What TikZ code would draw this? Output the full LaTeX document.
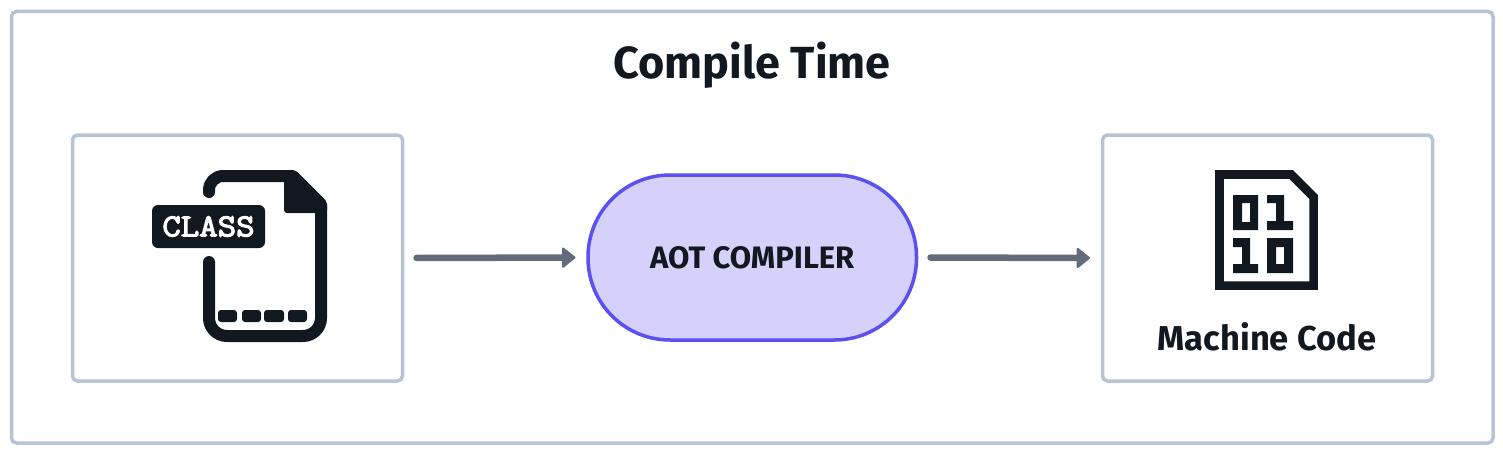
\documentclass[tikz,border=0pt]{standalone}
\usepackage{fontspec}
\usetikzlibrary{arrows.meta}
\setmainfont{Fira Sans}
\newfontfamily\slabfont[FakeBold=3.5,FakeStretch=1.12]{Latin Modern Mono}
\definecolor{ink}{HTML}{111820}
\definecolor{edge}{HTML}{B8C4D6}
\definecolor{arrowgray}{HTML}{626C7A}
\definecolor{pillfill}{HTML}{D5D1FA}
\definecolor{pilledge}{HTML}{5B50F0}
\tikzset{
  x=1pt,y=-1pt,
  panel/.style={draw=edge,line width=3.5pt,rounded corners=5pt,fill=white,outer sep=0pt,inner sep=0pt},
  flow/.style={draw=arrowgray,line width=6.5pt,line cap=round,-{Triangle[length=14pt,width=22pt,round,line width=2pt]},shorten <=14pt,shorten >=12.5pt},
  iconline/.style={draw=ink,line cap=round,line join=round,line width=12pt},
}
\begin{document}
\begin{tikzpicture}
\useasboundingbox (0,0) rectangle (1503,452);
\fill[white] (0,0) rectangle (1503,452);
\node[panel,minimum width=1481.5pt,minimum height=431.5pt] (outer) at (752.25,227.25) {};
\node[font=\bfseries\fontsize{45}{45}\selectfont,text=ink,inner sep=0pt] (title) at (752,65) {Compile Time};
\node[panel,minimum width=330pt,minimum height=246pt] (src) at (237.5,258) {};
\node[panel,minimum width=330pt,minimum height=246pt] (dst) at (1267.5,258) {};
\node[draw=pilledge,fill=pillfill,line width=3.5pt,rounded corners=82pt,minimum width=328.5pt,minimum height=165pt,outer sep=0pt,inner sep=0pt,
  font=\fontsize{31}{31}\selectfont\bfseries,text=ink] (aot) at (752.25,257.5) {AOT COMPILER};
\draw[flow] (src.east) -- (aot.west);
\draw[flow] (aot.east) -- (dst.west);
% CLASS file icon
\draw[iconline,rounded corners=0pt] (209,192) -- (209,190) [rounded corners=14pt] -- (209,176) [rounded corners=0pt] -- (293,176) -- (321,204) [rounded corners=18pt] -- (321,336) -- (209,336) [rounded corners=0pt] -- (209,262);
\fill[ink,rounded corners=3pt] (284,172) -- (296,172) -- (327,203) -- (327,213) -- (284,213) -- cycle;
\node[fill=ink,rounded corners=6pt,minimum width=113pt,minimum height=43pt,inner sep=0pt,outer sep=0pt,text=white,font=\slabfont\fontsize{32}{32}\selectfont] (badge) at (208.5,226.5) {CLASS};
\fill[ink,rounded corners=3pt] (218,310) rectangle (237,322);
\fill[ink,rounded corners=3pt] (242,310) rectangle (261,322);
\fill[ink,rounded corners=3pt] (264,310) rectangle (284,322);
\fill[ink,rounded corners=3pt] (288,310) rectangle (307,322);
% binary icon
\draw[draw=ink,line width=8.7pt,miter limit=4] (1219.4,174.4) -- (1291,174.4) -- (1313.6,197) -- (1313.6,285.6) -- (1219.4,285.6) -- cycle;
\fill[ink,even odd rule] (1233,195) rectangle (1258,230) (1242,203) rectangle (1250,222);
\fill[ink] (1267,195) -- (1284,195) -- (1284,221) -- (1293,221) -- (1293,230) -- (1267,230) -- (1267,221) -- (1276,221) -- (1276,203) -- (1267,203) -- cycle;
\fill[ink] (1233,238) -- (1250,238) -- (1250,264) -- (1258,264) -- (1258,273) -- (1233,273) -- (1233,264) -- (1242,264) -- (1242,247) -- (1233,247) -- cycle;
\fill[ink,even odd rule] (1267,238) rectangle (1293,273) (1276,247) rectangle (1284,264);
\node[font=\bfseries\fontsize{34.5}{34.5}\selectfont,text=ink,inner sep=0pt] (mc) at (1267,337) {Machine Code};
\end{tikzpicture}
\end{document}
